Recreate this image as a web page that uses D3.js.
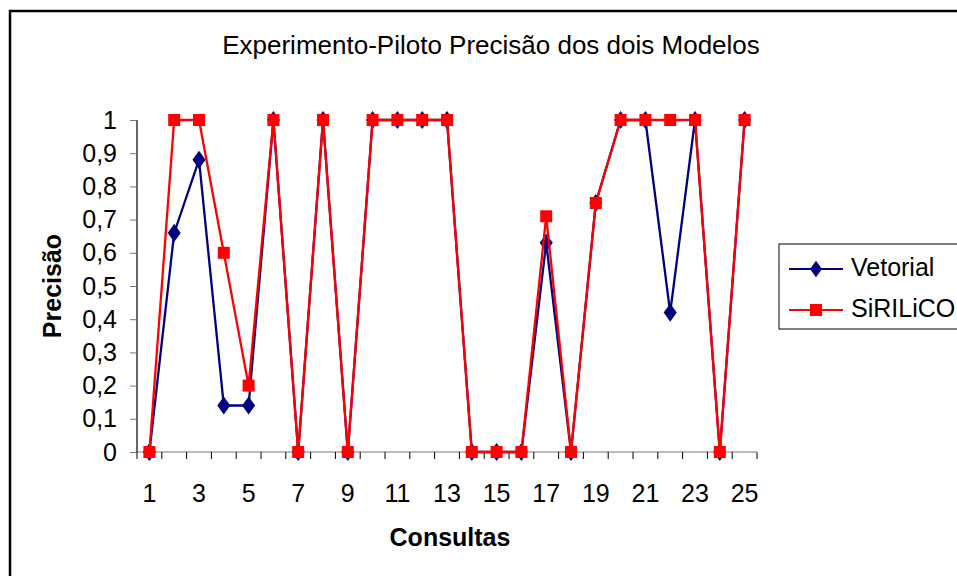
<!DOCTYPE html>
<html>
<head>
<meta charset="utf-8">
<script src="https://cdn.jsdelivr.net/npm/d3@7"></script>
<style>
  body { margin: 0; background: #fff; }
  svg { display: block; font-family: "Liberation Sans", Arial, sans-serif; }
</style>
</head>
<body>
<div id="chart"></div>
<script>
// data
const consultas = d3.range(1, 26);
const vetorial = [0, 0.66, 0.88, 0.14, 0.14, 1, 0, 1, 0, 1, 1, 1, 1, 0, 0, 0, 0.63, 0, 0.75, 1, 1, 0.42, 1, 0, 1];
const sirilico = [0, 1, 1, 0.6, 0.2, 1, 0, 1, 0, 1, 1, 1, 1, 0, 0, 0, 0.71, 0, 0.75, 1, 1, 1, 1, 0, 1];
const yTicks = d3.range(0, 11).map(d => d / 10);
const xTickLabels = consultas.filter(d => d % 2 === 1);

const width = 957, height = 576;
const svg = d3.select('#chart').append('svg')
  .attr('width', width)
  .attr('height', height);

// outer chart border (runs off the right and bottom)
svg.append('rect')
  .attr('x', 10).attr('y', 11)
  .attr('width', 1000).attr('height', 1000)
  .attr('fill', '#fff')
  .attr('stroke', '#000')
  .attr('stroke-width', 2.5);

const plot = { left: 137, right: 757, top: 120, bottom: 452 };

const x = d3.scaleBand().domain(consultas).range([plot.left, plot.right]);
const y = d3.scaleLinear().domain([0, 1]).range([plot.bottom, plot.top]);

// title
svg.append('text')
  .attr('x', 491).attr('y', 54)
  .attr('text-anchor', 'middle')
  .attr('font-size', 26)
  .text('Experimento-Piloto Precisão dos dois Modelos');

// y axis
const yAxis = svg.append('g')
  .attr('transform', `translate(${plot.left},0)`)
  .call(d3.axisLeft(y).tickValues(yTicks).tickSize(7).tickPadding(13)
    .tickFormat(d => d === 0 || d === 1 ? String(d) : d3.format('.1f')(d).replace('.', ',')));
yAxis.select('.domain').attr('stroke', '#000').attr('stroke-width', 1.2).attr('d', `M0,${plot.top}V${plot.bottom}`);
yAxis.selectAll('.tick line').attr('stroke', '#777');
yAxis.selectAll('text').attr('font-size', 25).attr('fill', '#000').attr('font-family', '"Liberation Sans", Arial, sans-serif');

// x axis: ticks at category boundaries
const xg = svg.append('g');
xg.append('line')
  .attr('x1', plot.left).attr('x2', plot.right)
  .attr('y1', plot.bottom).attr('y2', plot.bottom)
  .attr('stroke', '#777').attr('stroke-width', 1.2);
const boundaries = consultas.map(c => x(c)).concat([x(25) + x.bandwidth()]);
xg.selectAll('.xt').data(boundaries).enter().append('line')
  .attr('x1', d => d).attr('x2', d => d)
  .attr('y1', plot.bottom).attr('y2', plot.bottom + 7)
  .attr('stroke', '#000').attr('stroke-width', 1);
xg.selectAll('.xl').data(xTickLabels).enter().append('text')
  .attr('x', d => x(d) + x.bandwidth() / 2)
  .attr('y', 502)
  .attr('text-anchor', 'middle')
  .attr('font-size', 25)
  .text(d => d);

// axis titles
svg.append('text')
  .attr('x', 450).attr('y', 546)
  .attr('text-anchor', 'middle')
  .attr('font-size', 25).attr('font-weight', 'bold')
  .text('Consultas');
svg.append('text')
  .attr('transform', 'translate(61,286) rotate(-90)')
  .attr('text-anchor', 'middle')
  .attr('font-size', 25).attr('font-weight', 'bold')
  .text('Precisão');

// series
const cx = i => x(consultas[i]) + x.bandwidth() / 2;
const line = d3.line().x((d, i) => cx(i)).y(d => y(d));

svg.append('path').datum(vetorial)
  .attr('d', line).attr('fill', 'none')
  .attr('stroke', '#000080').attr('stroke-width', 2.3);
svg.selectAll('.vm').data(vetorial).enter().append('path')
  .attr('d', d3.symbol().type(d3.symbolDiamond).size(95))
  .attr('transform', (d, i) => `translate(${cx(i)},${y(d)}) scale(1.25,1)`)
  .attr('fill', '#000080');

svg.append('path').datum(sirilico)
  .attr('d', line).attr('fill', 'none')
  .attr('stroke', '#ff0000').attr('stroke-width', 2.3);
svg.selectAll('.sm').data(sirilico).enter().append('rect')
  .attr('x', (d, i) => cx(i) - 6).attr('y', d => y(d) - 6)
  .attr('width', 12).attr('height', 12)
  .attr('fill', '#ff0000');

// legend
const legend = svg.append('g');
legend.append('rect')
  .attr('x', 779).attr('y', 244)
  .attr('width', 200).attr('height', 85)
  .attr('fill', '#fff').attr('stroke', '#000').attr('stroke-width', 1);
const legendItems = [
  { name: 'Vetorial', color: '#000080', shape: 'diamond' },
  { name: 'SiRILiCO', color: '#ff0000', shape: 'square' }
];
legendItems.forEach((it, i) => {
  const ly = 269 + i * 41;
  legend.append('line')
    .attr('x1', 789).attr('x2', 843).attr('y1', ly).attr('y2', ly)
    .attr('stroke', it.color).attr('stroke-width', 2);
  if (it.shape === 'diamond') {
    legend.append('path')
      .attr('d', d3.symbol().type(d3.symbolDiamond).size(80))
      .attr('transform', `translate(816,${ly}) scale(1.25,1)`)
      .attr('fill', it.color);
  } else {
    legend.append('rect')
      .attr('x', 810).attr('y', ly - 6).attr('width', 12).attr('height', 12)
      .attr('fill', it.color);
  }
  legend.append('text')
    .attr('x', 851).attr('y', ly + 7)
    .attr('font-size', 25)
    .text(it.name);
});
</script>
</body>
</html>
